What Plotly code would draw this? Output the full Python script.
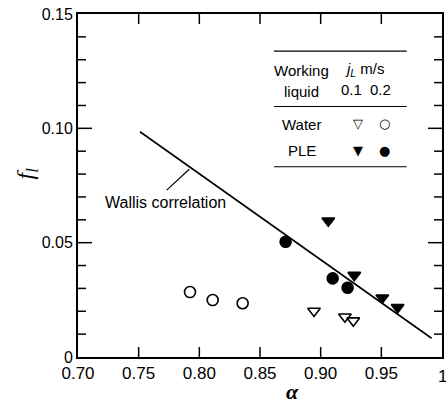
import plotly.graph_objects as go

# ---- data ----
water_01_alpha = [0.8945, 0.9200, 0.9269]
water_01_f = [0.0201, 0.0176, 0.0159]
water_02_alpha = [0.7923, 0.8110, 0.8357]
water_02_f = [0.0284, 0.0249, 0.0235]
ple_01_alpha = [0.9063, 0.9277, 0.9508, 0.9634]
ple_01_f = [0.0596, 0.0358, 0.0259, 0.0217]
ple_02_alpha = [0.8711, 0.9099, 0.9222]
ple_02_f = [0.0504, 0.0344, 0.0303]
wallis_alpha = [0.7511, 0.9914]
wallis_f = [0.0985, 0.0082]

x_tickvals = [0.70, 0.75, 0.80, 0.85, 0.90, 0.95, 1.00]
x_ticktext = ["0.70", "0.75", "0.80", "0.85", "0.90", "0.95", "1"]
y_tickvals = [0, 0.05, 0.10, 0.15]
y_ticktext = ["0", "0.05", "0.10", "0.15"]
y_minor_vals = [0.01, 0.02, 0.03, 0.04, 0.06, 0.07, 0.08, 0.09, 0.11, 0.12, 0.13, 0.14]

SANS = "Liberation Sans, Arial, sans-serif"
SERIF = "Liberation Serif, Times New Roman, serif"

W, H = 446, 403
ML, MR, MT, MB = 78, 4, 14, 46
PW, PH = W - ML - MR, H - MT - MB

fig = go.Figure()

fig.add_trace(go.Scatter(x=wallis_alpha, y=wallis_f, mode="lines",
                         line=dict(color="black", width=1.6), showlegend=False))

def pts(x, y, symbol):
    return go.Scatter(x=x, y=y, mode="markers", showlegend=False,
                      marker=dict(symbol=symbol, size=11, color="black",
                                  line=dict(color="black", width=1.6)))

fig.add_trace(pts(water_01_alpha, water_01_f, "triangle-down-open"))
fig.add_trace(pts(water_02_alpha, water_02_f, "circle-open"))
fig.add_trace(pts(ple_01_alpha, ple_01_f, "triangle-down"))
fig.add_trace(pts(ple_02_alpha, ple_02_f, "circle"))

fig.update_xaxes(range=[0.70, 1.00], tickmode="array", tickvals=x_tickvals, ticktext=x_ticktext,
                 showline=True, linecolor="black", linewidth=2, mirror=True,
                 ticks="", showgrid=False, zeroline=False,
                 tickfont=dict(family=SANS, size=17, color="black"))
fig.update_yaxes(range=[0, 0.15], tickmode="array", tickvals=y_tickvals, ticktext=y_ticktext,
                 showline=True, linecolor="black", linewidth=2, mirror=True,
                 ticks="", showgrid=False, zeroline=False,
                 tickfont=dict(family=SANS, size=16, color="black"))

ann = []
def txt(x, y, s, size=15, family=SANS, **kw):
    ann.append(dict(x=x, y=y, xref="x", yref="y", text=s, showarrow=False,
                    font=dict(family=family, size=size, color="black"),
                    xanchor="center", yanchor="middle", **kw))

# legend table
txt(0.8846, 0.1251, "Working")
txt(0.8842, 0.1163, "liquid")
txt(0.9365, 0.1257, "<i>j</i><sub><i>L</i></sub> m/s")
txt(0.9250, 0.1168, "0.1")
txt(0.9489, 0.1168, "0.2")
txt(0.8844, 0.1015, "Water")
txt(0.8844, 0.0905, "PLE")
txt(0.9310, 0.1019, "▽", size=13, family="DejaVu Sans")
txt(0.9530, 0.1019, "○", size=13, family="DejaVu Sans")
txt(0.9310, 0.0905, "▼", size=13, family="DejaVu Sans")
txt(0.9530, 0.0905, "●", size=13, family="DejaVu Sans")

# Wallis label
txt(0.7717, 0.0677, "Wallis correlation", size=16)

# last x tick label, cut by the page edge as in the reference
ann.append(dict(x=x_tickvals[-1], y=-0.058, xref="x", yref="paper", text=x_ticktext[-1],
                showarrow=False, font=dict(family=SANS, size=17, color="black"),
                xanchor="center", yanchor="middle"))

# axis titles
ann.append(dict(x=-0.140, y=0.535, xref="paper", yref="paper", text="<i>f</i><sub><i>l</i></sub>",
                showarrow=False, textangle=-90, font=dict(family=SERIF, size=24, color="black"),
                xanchor="center", yanchor="middle"))
ann.append(dict(x=0.588, y=-0.100, xref="paper", yref="paper", text="<b><i>α</i></b>",
                showarrow=False, font=dict(family=SERIF, size=22, color="black"),
                xanchor="center", yanchor="middle"))

shapes = []
tick_line = dict(color="black", width=1.5)
# inward ticks on all four sides, placed at the axis tick values
xlen = 10 / PH
for xv in x_tickvals[1:-1]:
    shapes.append(dict(type="line", xref="x", yref="paper", x0=xv, x1=xv, y0=0, y1=xlen, line=tick_line))
    shapes.append(dict(type="line", xref="x", yref="paper", x0=xv, x1=xv, y0=1, y1=1 - xlen, line=tick_line))
for yv, ln in [(v, 14) for v in y_tickvals[1:-1]] + [(v, 8) for v in y_minor_vals]:
    L = ln / PW
    shapes.append(dict(type="line", xref="paper", yref="y", x0=0, x1=L, y0=yv, y1=yv, line=tick_line))
    shapes.append(dict(type="line", xref="paper", yref="y", x0=1, x1=1 - L, y0=yv, y1=yv, line=tick_line))

# legend rules and Wallis leader
for yv in [0.1338, 0.10955, 0.0832]:
    shapes.append(dict(type="line", xref="x", yref="y", x0=0.8615, x1=0.9709, y0=yv, y1=yv,
                       line=dict(color="black", width=1.2)))
shapes.append(dict(type="line", xref="x", yref="y", x0=0.7731, y0=0.0730, x1=0.7917, y1=0.0821,
                   line=dict(color="black", width=1.2)))

fig.update_layout(width=W, height=H, margin=dict(l=ML, r=MR, t=MT, b=MB, autoexpand=False),
                  paper_bgcolor="white", plot_bgcolor="white",
                  annotations=ann, shapes=shapes, showlegend=False)

fig.write_html("out.html")
